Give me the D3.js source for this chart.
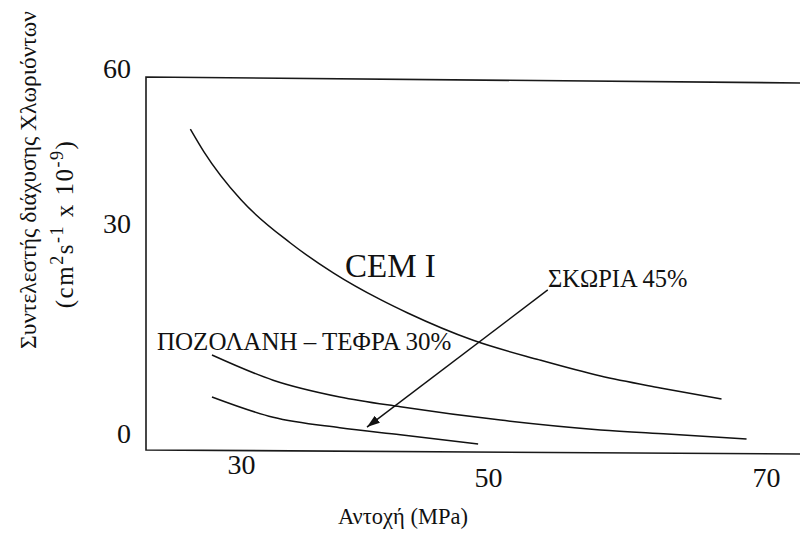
<!DOCTYPE html>
<html>
<head>
<meta charset="utf-8">
<script src="https://cdn.jsdelivr.net/npm/d3@7"></script>
<style>
  body { margin: 0; background: #fff; }
  svg { display: block; }
</style>
</head>
<body>
<svg id="chart" width="800" height="540"></svg>
<script>
// Axis ticks
const strengthTicks = [30, 50, 70];
const diffusionTicks = [0, 30, 60];

// CEM I
const cemStrength  = [25.9, 27.0, 30.0, 34.0, 37.5, 41.3, 43.5, 48.8, 53.7, 58.1, 62.4, 66.8];
const cemDiffusion = [50.7, 46.3, 37.0, 29.0, 24.7, 20.9, 19.0, 15.1, 12.3, 10.0, 8.3, 6.7];

// Pozzolan - fly ash 30%
const pozStrength  = [27.65, 32.6, 38.0, 42.9, 50.9, 58.1, 62.9, 68.6];
const pozDiffusion = [13.0, 9.4, 7.0, 5.6, 3.7, 2.3, 1.7, 1.0];

// Slag 45%
const slagStrength  = [27.65, 32.6, 38.0, 42.9, 49.2];
const slagDiffusion = [7.0, 4.1, 2.6, 1.6, 0.3];

const seriesNames = ["CEM I", "ΠΟΖΟΛΑΝΗ – ΤΕΦΡΑ 30%", "ΣΚΩΡΙΑ 45%"];

const FONT = "Liberation Serif";
const INK = "#111";

const svg = d3.select("#chart")
  .attr("font-family", FONT);

const x = d3.scaleLinear().domain([30, 50, 70]).range([241, 488, 766]);
const y = d3.scaleLinear().domain([0, 30, 60]).range([446, 236, 81]);

// Plot frame (open on the right)
svg.append("path")
  .attr("d", "M800,83 L146,77 L146,450 L800,454")
  .attr("fill", "none")
  .attr("stroke", "#1a1a1a")
  .attr("stroke-width", 1.6);

// Curves
const line = d3.line()
  .x(d => x(d[0]))
  .y(d => y(d[1]))
  .curve(d3.curveMonotoneX);

const curves = [
  d3.zip(cemStrength, cemDiffusion),
  d3.zip(pozStrength, pozDiffusion),
  d3.zip(slagStrength, slagDiffusion)
];

svg.selectAll("path.curve")
  .data(curves)
  .join("path")
  .attr("class", "curve")
  .attr("d", line)
  .attr("fill", "none")
  .attr("stroke", INK)
  .attr("stroke-width", 1.5);

// Y tick labels
svg.append("g")
  .selectAll("text")
  .data(diffusionTicks)
  .join("text")
  .attr("x", 131)
  .attr("y", d => y(d) - 3)
  .attr("text-anchor", "end")
  .attr("font-family", FONT)
  .attr("font-size", 28)
  .attr("fill", INK)
  .text(d => d);

// X tick labels
const xAxis = svg.append("g")
  .attr("transform", "translate(0,451)")
  .call(d3.axisBottom(x).tickValues(strengthTicks).tickSize(0).tickPadding(26).tickFormat(d3.format("d")));
xAxis.attr("font-family", FONT);
xAxis.select(".domain").remove();
xAxis.selectAll("text")
  .attr("font-size", 28)
  .attr("font-family", FONT)
  .attr("fill", INK)
  .attr("dy", d => d === 30 ? "-0.1em" : "0.35em");

// Axis titles
svg.append("text")
  .attr("x", 403)
  .attr("y", 524)
  .attr("text-anchor", "middle")
  .attr("font-family", FONT)
  .attr("font-size", 22.5)
  .attr("fill", INK)
  .text("Αντοχή (MPa)");

svg.append("text")
  .attr("transform", "translate(36,180) rotate(-90)")
  .attr("text-anchor", "middle")
  .attr("font-family", FONT)
  .attr("font-size", 23.5)
  .attr("fill", INK)
  .text("Συντελεστής διάχυσης Χλωριόντων");

const unit = svg.append("text")
  .attr("transform", "translate(73,224) rotate(-90)")
  .attr("text-anchor", "middle")
  .attr("font-family", FONT)
  .attr("font-size", 25)
  .attr("letter-spacing", 1.5)
  .attr("fill", INK);
unit.append("tspan").text("(cm");
unit.append("tspan").attr("baseline-shift", "super").attr("font-size", 18).text("2");
unit.append("tspan").text("s");
unit.append("tspan").attr("baseline-shift", "super").attr("font-size", 18).text("-1");
unit.append("tspan").text(" x 10");
unit.append("tspan").attr("baseline-shift", "super").attr("font-size", 18).text("-9");
unit.append("tspan").text(")");

// Series labels
const labels = [
  { name: seriesNames[0], px: 345, py: 277, size: 33 },
  { name: seriesNames[1], px: 157, py: 350, size: 25 },
  { name: seriesNames[2], px: 548, py: 287, size: 24.5 }
];
svg.append("g")
  .selectAll("text")
  .data(labels)
  .join("text")
  .attr("x", d => d.px)
  .attr("y", d => d.py)
  .attr("font-family", FONT)
  .attr("font-size", d => d.size)
  .attr("fill", INK)
  .text(d => d.name);

// Arrow from the slag label down to its curve
svg.append("defs").append("marker")
  .attr("id", "arrowhead")
  .attr("viewBox", "0 0 12 8")
  .attr("refX", 12).attr("refY", 4)
  .attr("markerWidth", 13).attr("markerHeight", 9)
  .attr("markerUnits", "userSpaceOnUse")
  .attr("orient", "auto")
  .append("path")
  .attr("d", "M0,0 L12,4 L0,8 Z")
  .attr("fill", INK);

svg.append("line")
  .attr("x1", x(54.3)).attr("y1", y(22.3))
  .attr("x2", x(40.2)).attr("y2", y(2.7))
  .attr("stroke", INK)
  .attr("stroke-width", 1.4)
  .attr("marker-end", "url(#arrowhead)");
</script>
</body>
</html>
